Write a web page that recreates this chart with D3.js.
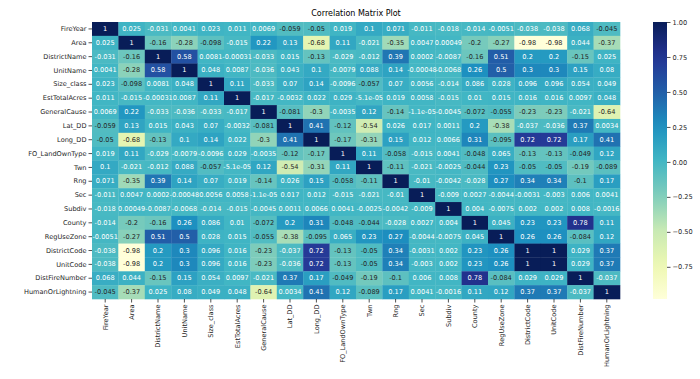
<!DOCTYPE html>
<html>
<head>
<meta charset="utf-8">
<script src="https://cdn.jsdelivr.net/npm/d3@7"></script>
<style>
  html, body { margin: 0; padding: 0; background: #ffffff; }
  svg { display: block; font-family: "DejaVu Sans", sans-serif; }
</style>
</head>
<body>
<svg id="chart" width="700" height="379"></svg>
<script>
const variables = ["FireYear","Area","DistrictName","UnitName","Size_class","EstTotalAcres","GeneralCause","Lat_DD","Long_DD","FO_LandOwnType","Twn","Rng","Sec","Subdiv","County","RegUseZone","DistrictCode","UnitCode","DistFireNumber","HumanOrLightning"];

const correlations = [
  [1, 0.025, -0.031, 0.0041, 0.023, 0.011, 0.0069, -0.059, -0.05, 0.019, 0.1, 0.071, -0.011, -0.018, -0.014, -0.0051, -0.038, -0.038, 0.068, -0.045],
  [0.025, 1, -0.16, -0.28, -0.098, -0.015, 0.22, 0.13, -0.68, 0.11, -0.021, -0.35, 0.0047, 0.00049, -0.2, -0.27, -0.98, -0.98, 0.044, -0.37],
  [-0.031, -0.16, 1, 0.58, 0.0081, -0.00031, -0.033, 0.015, -0.13, -0.029, -0.012, 0.39, 0.0002, -0.0087, -0.16, 0.51, 0.2, 0.2, -0.15, 0.025],
  [0.0041, -0.28, 0.58, 1, 0.048, 0.0087, -0.036, 0.043, 0.1, -0.0079, 0.088, 0.14, -0.00048, -0.0068, 0.26, 0.5, 0.3, 0.3, 0.15, 0.08],
  [0.023, -0.098, 0.0081, 0.048, 1, 0.11, -0.033, 0.07, 0.14, -0.0096, -0.057, 0.07, 0.0056, -0.014, 0.086, 0.028, 0.096, 0.096, 0.054, 0.049],
  [0.011, -0.015, -0.00031, 0.0087, 0.11, 1, -0.017, -0.0032, 0.022, 0.029, -5.1e-05, 0.019, 0.0058, -0.015, 0.01, 0.015, 0.016, 0.016, 0.0097, 0.048],
  [0.0069, 0.22, -0.033, -0.036, -0.033, -0.017, 1, -0.081, -0.3, -0.0035, 0.12, -0.14, -1.1e-05, -0.0045, -0.072, -0.055, -0.23, -0.23, -0.021, -0.64],
  [-0.059, 0.13, 0.015, 0.043, 0.07, -0.0032, -0.081, 1, 0.41, -0.12, -0.54, 0.026, 0.017, 0.0011, 0.2, -0.38, -0.037, -0.036, 0.37, 0.0034],
  [-0.05, -0.68, -0.13, 0.1, 0.14, 0.022, -0.3, 0.41, 1, -0.17, -0.31, 0.15, 0.012, 0.0066, 0.31, -0.095, 0.72, 0.72, 0.17, 0.41],
  [0.019, 0.11, -0.029, -0.0079, -0.0096, 0.029, -0.0035, -0.12, -0.17, 1, 0.11, -0.058, -0.015, 0.0041, -0.048, 0.065, -0.13, -0.13, -0.049, 0.12],
  [0.1, -0.021, -0.012, 0.088, -0.057, -5.1e-05, 0.12, -0.54, -0.31, 0.11, 1, -0.11, -0.021, -0.0025, -0.044, 0.23, -0.05, -0.05, -0.19, -0.089],
  [0.071, -0.35, 0.39, 0.14, 0.07, 0.019, -0.14, 0.026, 0.15, -0.058, -0.11, 1, -0.01, -0.0042, -0.028, 0.27, 0.34, 0.34, -0.1, 0.17],
  [-0.011, 0.0047, 0.0002, -0.00048, 0.0056, 0.0058, -1.1e-05, 0.017, 0.012, -0.015, -0.021, -0.01, 1, -0.009, 0.0027, -0.0044, -0.0031, -0.003, 0.006, 0.0041],
  [-0.018, 0.00049, -0.0087, -0.0068, -0.014, -0.015, -0.0045, 0.0011, 0.0066, 0.0041, -0.0025, -0.0042, -0.009, 1, 0.004, -0.0075, 0.002, 0.002, 0.008, -0.0016],
  [-0.014, -0.2, -0.16, 0.26, 0.086, 0.01, -0.072, 0.2, 0.31, -0.048, -0.044, -0.028, 0.0027, 0.004, 1, 0.045, 0.23, 0.23, 0.78, 0.11],
  [-0.0051, -0.27, 0.51, 0.5, 0.028, 0.015, -0.055, -0.38, -0.095, 0.065, 0.23, 0.27, -0.0044, -0.0075, 0.045, 1, 0.26, 0.26, -0.084, 0.12],
  [-0.038, -0.98, 0.2, 0.3, 0.096, 0.016, -0.23, -0.037, 0.72, -0.13, -0.05, 0.34, -0.0031, 0.002, 0.23, 0.26, 1, 1, 0.029, 0.37],
  [-0.038, -0.98, 0.2, 0.3, 0.096, 0.016, -0.23, -0.036, 0.72, -0.13, -0.05, 0.34, -0.003, 0.002, 0.23, 0.26, 1, 1, 0.029, 0.37],
  [0.068, 0.044, -0.15, 0.15, 0.054, 0.0097, -0.021, 0.37, 0.17, -0.049, -0.19, -0.1, 0.006, 0.008, 0.78, -0.084, 0.029, 0.029, 1, -0.037],
  [-0.045, -0.37, 0.025, 0.08, 0.049, 0.048, -0.64, 0.0034, 0.41, 0.12, -0.089, 0.17, 0.0041, -0.0016, 0.11, 0.12, 0.37, 0.37, -0.037, 1]
];

const colorbarTicks = [1.0, 0.75, 0.5, 0.25, 0.0, -0.25, -0.5, -0.75];
const colorRange = [-0.98, 1.0];
const ylgnbu = ["#ffffd9","#edf8b1","#c7e9b4","#7fcdbb","#41b6c4","#1d91c0","#225ea8","#253494","#081d58"];
const titleText = "Correlation Matrix Plot";

(function () {
// layout
const mLeft = 92, mRight = 620, mTop = 22, mBottom = 299;
const cbX = 653, cbW = 14;

const svg = d3.select("#chart");

const x = d3.scaleBand().domain(variables).range([mLeft, mRight]).padding(0);
const y = d3.scaleBand().domain(variables).range([mTop, mBottom]).padding(0);

const stops = ylgnbu.map((_, i) => colorRange[0] + (colorRange[1] - colorRange[0]) * i / (ylgnbu.length - 1));
const color = d3.scaleLinear().domain(stops).range(ylgnbu).interpolate(d3.interpolateRgb).clamp(true);

function pyG2(v) {
  if (v === 0) return "0";
  const a = Math.abs(v);
  const r = Number(a.toPrecision(2));
  const e = Math.floor(Math.log10(r));
  let s;
  if (e < -4 || e >= 2) {
    let [m, ex] = r.toExponential(1).split("e");
    m = m.replace(/\.?0+$/, "");
    const sign = ex[0] === "-" ? "-" : "+";
    let digits = ex.replace(/^[+-]/, "");
    if (digits.length < 2) digits = "0" + digits;
    s = m + "e" + sign + digits;
  } else {
    s = r.toFixed(Math.max(0, 1 - e));
    if (s.indexOf(".") >= 0) s = s.replace(/0+$/, "").replace(/\.$/, "");
  }
  return (v < 0 ? "-" : "") + s;
}

function luminance(c) {
  const rgb = d3.rgb(c);
  const ch = [rgb.r, rgb.g, rgb.b].map(v => {
    v = v / 255;
    return v <= 0.03928 ? v / 12.92 : Math.pow((v + 0.055) / 1.055, 2.4);
  });
  return 0.2126 * ch[0] + 0.7152 * ch[1] + 0.0722 * ch[2];
}

const cells = [];
correlations.forEach((row, i) => row.forEach((v, j) => cells.push({ r: variables[i], c: variables[j], v })));

const g = svg.append("g");
g.selectAll("rect.cell").data(cells).enter().append("rect")
  .attr("class", "cell")
  .attr("x", d => x(d.c))
  .attr("y", d => y(d.r))
  .attr("width", x.bandwidth() + 0.3)
  .attr("height", y.bandwidth() + 0.3)
  .attr("fill", d => color(d.v));

g.selectAll("text.annot").data(cells).enter().append("text")
  .attr("class", "annot")
  .attr("x", d => x(d.c) + x.bandwidth() / 2)
  .attr("y", d => y(d.r) + y.bandwidth() / 2)
  .attr("text-anchor", "middle")
  .attr("dominant-baseline", "central")
  .attr("font-size", 6.6)
  .attr("fill", d => luminance(color(d.v)) > 0.408 ? "#262626" : "#ffffff")
  .text(d => pyG2(d.v));

// axes
const xAxis = d3.axisBottom(x).tickSize(3.5).tickPadding(2);
const yAxis = d3.axisLeft(y).tickSize(3.5).tickPadding(2);

const gx = svg.append("g").attr("transform", `translate(0,${mBottom})`).call(xAxis);
gx.select(".domain").remove();
gx.selectAll(".tick line").attr("stroke", "#262626").attr("stroke-width", 0.8);
gx.selectAll(".tick text")
  .attr("font-size", 6.6)
  .attr("fill", "#262626")
  .attr("font-family", "DejaVu Sans, sans-serif")
  .attr("transform", "rotate(-90)")
  .attr("text-anchor", "end")
  .attr("x", -5.5)
  .attr("y", 0)
  .attr("dy", "0.35em");

const gy = svg.append("g").attr("transform", `translate(${mLeft},0)`).call(yAxis);
gy.select(".domain").remove();
gy.selectAll(".tick line").attr("stroke", "#262626").attr("stroke-width", 0.8);
gy.selectAll(".tick text")
  .attr("font-size", 6.6)
  .attr("fill", "#262626")
  .attr("font-family", "DejaVu Sans, sans-serif");

// title
svg.append("text")
  .attr("x", (mLeft + mRight) / 2)
  .attr("y", 16)
  .attr("text-anchor", "middle")
  .attr("font-size", 8)
  .attr("fill", "#000")
  .text(titleText);

// colorbar
const cbScale = d3.scaleLinear().domain(colorRange).range([mBottom, mTop]);
const defs = svg.append("defs");
const grad = defs.append("linearGradient").attr("id", "cbgrad")
  .attr("x1", 0).attr("y1", 1).attr("x2", 0).attr("y2", 0);
d3.range(0, 1.0001, 0.05).forEach(t => {
  grad.append("stop").attr("offset", t)
    .attr("stop-color", color(colorRange[0] + t * (colorRange[1] - colorRange[0])));
});
svg.append("rect")
  .attr("x", cbX).attr("y", mTop)
  .attr("width", cbW).attr("height", mBottom - mTop)
  .attr("fill", "url(#cbgrad)");

const cbAxis = d3.axisRight(cbScale).tickValues(colorbarTicks)
  .tickSize(3.5).tickPadding(2)
  .tickFormat(d => d3.format(".2f")(d).replace("-", "\u2212"));
const gcb = svg.append("g").attr("transform", `translate(${cbX + cbW},0)`).call(cbAxis);
gcb.select(".domain").remove();
gcb.selectAll(".tick line").attr("stroke", "#262626").attr("stroke-width", 0.8);
gcb.selectAll(".tick text")
  .attr("font-size", 6.6)
  .attr("fill", "#262626")
  .attr("font-family", "DejaVu Sans, sans-serif");
})();
</script>
</body>
</html>
